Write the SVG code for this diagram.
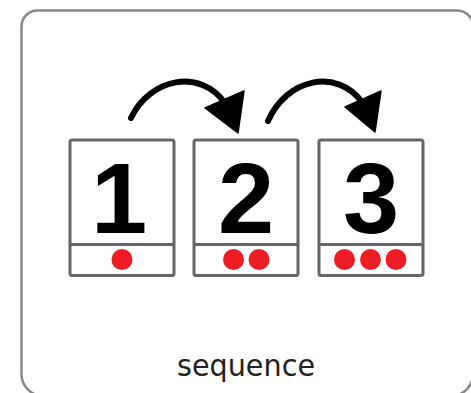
<svg xmlns="http://www.w3.org/2000/svg" width="471" height="393" viewBox="0 0 471 393">
<style>
.frame{fill:#fff;stroke:#888;stroke-width:2.5}
.card{fill:#fff;stroke:#666;stroke-width:3}
.div{stroke:#666;stroke-width:3}
.num{font-family:"Liberation Sans",Arial,sans-serif;font-weight:bold;font-size:101px;fill:#000;text-anchor:middle}
.dot{fill:#ee1c25}
.arc{fill:none;stroke:#000;stroke-width:6;stroke-linecap:round}
.head{fill:#000;stroke:#000;stroke-width:1.5;stroke-linejoin:round}
.label{font-family:"DejaVu Sans Condensed","DejaVu Sans",Verdana,sans-serif;font-size:30px;fill:#222;text-anchor:middle}
</style>
<rect width="471" height="393" fill="#fff"/>
<path class="frame" d="M21.5,26.5 A16,16 0 0 1 37.5,10.5 H457 A16,16 0 0 1 473,26.5 V374 A22,22 0 0 1 451,396 H43.5 A22,22 0 0 1 21.5,374 Z"/>
<g id="card1">
<rect class="card" x="70" y="140" width="104" height="135.5" rx="2"/>
<line class="div" x1="70" y1="244.5" x2="174" y2="244.5"/>
<text class="num" x="119" y="233">1</text>
<circle class="dot" cx="122" cy="259.5" r="10.5"/>
</g>
<g id="card2">
<rect class="card" x="194" y="140" width="104" height="135.5" rx="2"/>
<line class="div" x1="194" y1="244.5" x2="298" y2="244.5"/>
<text class="num" x="246" y="233">2</text>
<circle class="dot" cx="233.5" cy="259.5" r="10.5"/>
<circle class="dot" cx="259" cy="259.5" r="10.5"/>
</g>
<g id="card3">
<rect class="card" x="319" y="140" width="104" height="135.5" rx="2"/>
<line class="div" x1="319" y1="244.5" x2="423" y2="244.5"/>
<text class="num" x="371" y="233">3</text>
<circle class="dot" cx="344.5" cy="259.5" r="10.5"/>
<circle class="dot" cx="370.5" cy="259.5" r="10.5"/>
<circle class="dot" cx="396" cy="259.5" r="10.5"/>
</g>
<g id="connectors">
<path class="arc" d="M131,118 C150,78 200,68 225,103"/>
<polygon class="head" points="205,108 244,91 238,133"/>
<path class="arc" d="M268,121 C287,78 337,68 362,102"/>
<polygon class="head" points="345,107 381,91 375,132"/>
</g>
<text class="label" x="246" y="376" textLength="138" lengthAdjust="spacingAndGlyphs">sequence</text>
</svg>
